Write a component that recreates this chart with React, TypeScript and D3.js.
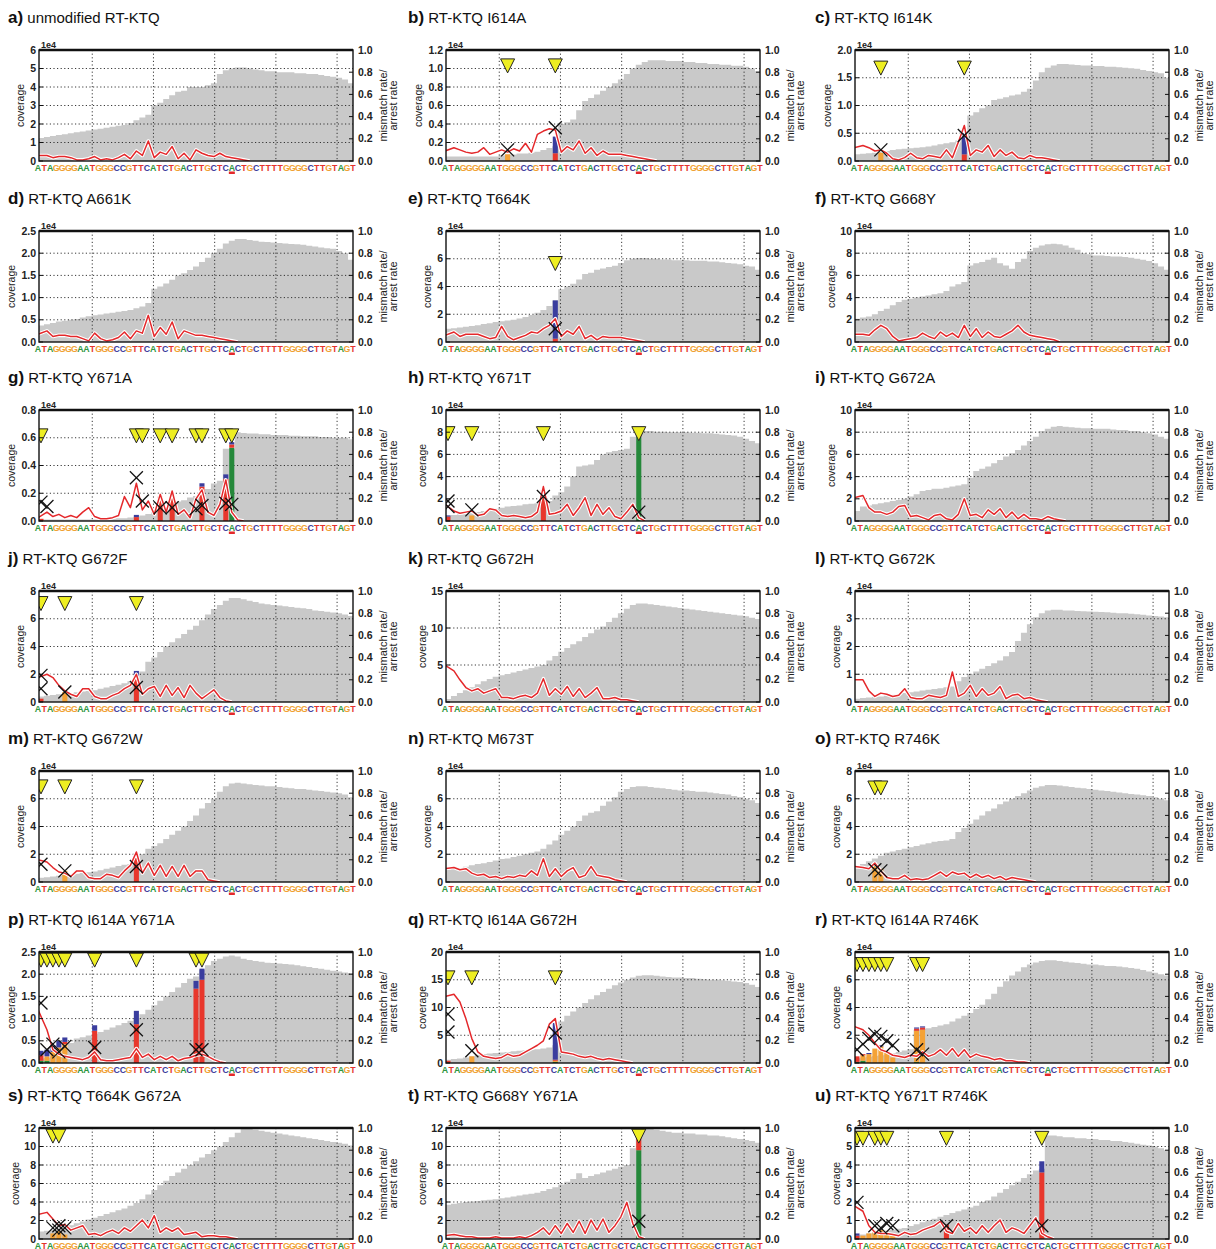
import React from "react";
import * as d3 from "d3";

// template sequence shown under every panel
const SEQ = "ATAGGGGAATGGGCCGTTCATCTGACTTGCTCACTGCTTTTGGGGCTTGTAGT".split("");
const MARKED = 32; // the underlined A

// coverage per position (units of 1e4)
const cov_a = [1.25,1.3,1.35,1.4,1.45,1.5,1.55,1.6,1.65,1.7, 1.75,1.8,1.85,1.9,1.95,2.05,2.2,2.35,2.5,3.0, 3.15,3.35,3.55,3.75,3.8,4.0,4.0,4.0,4.1,4.2, 4.7,4.9,5.0,5.05,5.05,5.0,4.95,4.9,4.85,4.85, 4.8,4.8,4.8,4.75,4.75,4.7,4.7,4.65,4.6,4.55, 4.5,4.4,4.2];
const cov_b = [0.05,0.05,0.05,0.05,0.05,0.05,0.05,0.05,0.05,0.06, 0.07,0.07,0.08,0.08,0.09,0.1,0.12,0.14,0.16,0.4, 0.42,0.45,0.55,0.65,0.68,0.72,0.76,0.8,0.84,0.88, 0.94,1.0,1.04,1.07,1.09,1.09,1.09,1.08,1.08,1.08, 1.07,1.07,1.06,1.06,1.05,1.05,1.04,1.04,1.03,1.03, 1.02,1.0,0.97];
const cov_c = [0.12,0.13,0.14,0.15,0.16,0.18,0.2,0.21,0.22,0.23, 0.24,0.25,0.26,0.28,0.3,0.32,0.34,0.37,0.42,0.82, 0.88,0.95,1.0,1.1,1.12,1.15,1.18,1.2,1.25,1.3, 1.45,1.6,1.68,1.72,1.75,1.75,1.74,1.73,1.72,1.72, 1.71,1.71,1.7,1.7,1.69,1.68,1.67,1.66,1.64,1.62, 1.6,1.58,1.5];
const cov_d = [0.37,0.4,0.43,0.46,0.48,0.5,0.52,0.55,0.58,0.6, 0.62,0.64,0.66,0.68,0.7,0.72,0.76,0.8,0.88,1.2, 1.25,1.32,1.4,1.5,1.55,1.62,1.7,1.8,1.9,2.0, 2.1,2.22,2.28,2.32,2.32,2.3,2.28,2.26,2.25,2.24, 2.23,2.22,2.21,2.2,2.19,2.17,2.15,2.13,2.11,2.1, 2.05,2.0,1.85];
const cov_e = [0.95,1.0,1.05,1.1,1.15,1.2,1.3,1.35,1.45,1.5, 1.55,1.6,1.7,1.8,1.95,2.1,2.3,2.6,3.0,3.8, 4.0,4.2,4.5,4.9,5.0,5.2,5.3,5.4,5.5,5.7, 5.9,6.0,6.05,6.05,6.0,6.0,5.95,5.95,5.9,5.9, 5.9,5.85,5.85,5.85,5.8,5.8,5.75,5.7,5.65,5.6, 5.5,5.45,5.2];
const cov_f = [2.1,2.2,2.3,2.5,2.8,3.0,3.3,3.6,3.8,3.9, 4.0,4.1,4.2,4.3,4.4,4.6,5.0,5.2,5.4,6.9, 7.1,7.2,7.4,7.6,7.1,6.9,6.6,7.2,7.5,8.2, 8.5,8.7,8.8,8.85,8.8,8.7,8.5,8.3,8.0,7.9, 7.8,7.8,7.75,7.7,7.7,7.65,7.6,7.5,7.4,7.3, 7.1,6.8,6.5];
const cov_g = [0.01,0.01,0.01,0.01,0.01,0.01,0.01,0.01,0.01,0.01, 0.01,0.01,0.015,0.02,0.02,0.025,0.03,0.04,0.05,0.07, 0.09,0.1,0.12,0.14,0.15,0.17,0.18,0.2,0.23,0.27, 0.29,0.52,0.52,0.64,0.635,0.63,0.63,0.625,0.625,0.62, 0.62,0.62,0.615,0.615,0.61,0.61,0.61,0.605,0.605,0.6, 0.6,0.6,0.59];
const cov_h = [0.5,0.55,0.6,0.65,0.7,0.8,0.9,1.0,1.1,1.2, 1.3,1.35,1.4,1.5,1.55,1.6,1.7,1.8,2.3,2.6, 3.1,4.0,4.9,5.0,5.1,5.5,6.0,6.2,6.3,6.4, 6.5,7.6,7.8,8.1,8.1,8.05,8.05,8.0,8.0,8.0, 8.0,7.95,7.95,7.9,7.9,7.85,7.8,7.75,7.7,7.6, 7.4,7.2,7.0];
const cov_i = [0.9,1.3,1.4,1.5,1.6,1.7,1.8,1.9,2.0,2.2, 2.4,2.7,2.8,2.9,2.9,3.0,3.1,3.2,3.3,3.9, 4.5,4.7,4.9,5.2,5.5,5.8,6.1,6.4,6.8,7.2, 7.6,8.1,8.3,8.5,8.55,8.5,8.45,8.4,8.35,8.35, 8.3,8.3,8.3,8.25,8.2,8.2,8.1,8.1,8.0,7.9, 7.8,7.6,7.4];
const cov_j = [0.4,0.45,0.5,0.55,0.6,0.65,0.7,0.75,0.8,0.85, 0.95,1.05,1.15,1.25,1.35,1.5,1.7,2.2,2.9,3.2, 3.6,4.0,4.3,4.6,4.9,5.2,5.5,5.9,6.3,6.7, 7.0,7.3,7.5,7.5,7.4,7.3,7.2,7.1,7.05,7.0, 6.95,6.9,6.85,6.8,6.75,6.7,6.6,6.55,6.5,6.45, 6.4,6.3,6.2];
const cov_k = [0.4,0.8,1.2,1.6,2.0,2.4,2.8,3.1,3.4,3.6, 3.8,4.0,4.2,4.4,4.6,4.8,5.0,5.6,6.2,6.8, 7.3,7.8,8.2,8.8,9.3,9.8,10.2,10.8,11.4,12.0, 12.6,13.1,13.3,13.3,13.2,13.1,13.0,12.9,12.8,12.7, 12.6,12.5,12.4,12.3,12.2,12.1,12.0,11.9,11.8,11.7, 11.6,11.4,11.2];
const cov_l = [0.12,0.14,0.16,0.18,0.2,0.23,0.26,0.29,0.32,0.35, 0.38,0.41,0.44,0.47,0.5,0.53,0.56,0.75,0.9,1.0, 1.1,1.2,1.3,1.4,1.5,1.65,1.8,2.2,2.5,2.8, 3.05,3.2,3.3,3.32,3.32,3.3,3.3,3.28,3.27,3.26, 3.25,3.24,3.23,3.22,3.2,3.2,3.18,3.16,3.14,3.12, 3.1,3.08,3.05];
const cov_m = [0.3,0.35,0.4,0.45,0.5,0.55,0.6,0.65,0.7,0.75, 0.85,0.95,1.05,1.15,1.25,1.3,1.4,2.0,2.4,2.6, 2.8,3.1,3.4,3.7,4.0,4.4,4.8,5.3,5.7,6.0, 6.5,6.9,7.1,7.15,7.1,7.05,7.0,6.95,6.9,6.9, 6.85,6.8,6.75,6.7,6.7,6.65,6.6,6.55,6.5,6.45, 6.4,6.3,6.1];
const cov_n = [0.9,0.95,1.0,1.1,1.2,1.3,1.35,1.45,1.55,1.65, 1.7,1.8,1.9,2.0,2.1,2.2,2.4,2.7,3.0,3.4, 3.7,4.0,4.4,4.8,5.0,5.1,5.5,5.8,6.1,6.5, 6.7,6.85,6.9,6.9,6.85,6.8,6.75,6.7,6.65,6.6, 6.6,6.55,6.5,6.5,6.45,6.4,6.35,6.3,6.2,6.1, 6.0,5.9,5.7];
const cov_o = [1.1,1.3,1.5,1.7,1.9,2.1,2.2,2.3,2.4,2.5, 2.6,2.7,2.8,2.9,2.95,3.0,3.1,3.6,3.9,4.2, 4.5,4.8,5.1,5.3,5.6,5.8,6.0,6.2,6.4,6.6, 6.8,6.9,7.0,7.0,6.95,6.9,6.85,6.8,6.75,6.7, 6.65,6.6,6.55,6.5,6.45,6.4,6.35,6.3,6.25,6.2, 6.1,6.0,5.9];
const cov_p = [0.1,0.12,0.15,0.2,0.3,0.45,0.55,0.58,0.62,0.66, 0.7,0.75,0.8,0.85,0.9,0.95,1.0,1.1,1.2,1.3, 1.4,1.5,1.6,1.7,1.8,1.9,1.95,2.1,2.2,2.3, 2.35,2.4,2.42,2.4,2.35,2.32,2.3,2.28,2.26,2.25, 2.24,2.23,2.22,2.2,2.18,2.16,2.14,2.12,2.1,2.08, 2.06,2.04,2.02];
const cov_q = [0.6,0.7,0.8,1.0,1.2,1.5,1.6,1.7,1.8,1.9, 2.0,2.1,2.2,2.3,2.4,2.5,2.6,2.8,3.2,7.5, 8.5,9.3,10.0,10.8,11.5,12.2,12.8,13.4,14.0,14.5, 15.0,15.4,15.7,15.8,15.8,15.7,15.6,15.5,15.4,15.4, 15.3,15.3,15.2,15.1,15.0,15.0,14.9,14.8,14.7,14.6, 14.4,14.1,13.7];
const cov_r = [0.35,0.4,0.45,0.5,0.55,0.6,0.7,0.8,0.9,1.0, 2.4,2.45,2.5,2.6,2.7,2.8,3.0,3.2,3.4,3.6, 3.9,4.2,4.6,5.0,5.5,5.9,6.3,6.6,6.9,7.1, 7.25,7.35,7.4,7.4,7.35,7.3,7.25,7.2,7.15,7.1, 7.1,7.05,7.0,7.0,6.95,6.9,6.85,6.8,6.7,6.6, 6.5,6.4,6.3];
const cov_s = [0.8,0.9,1.0,1.1,1.3,1.5,1.7,1.9,2.1,2.3, 2.5,2.7,2.9,3.1,3.3,3.6,3.9,4.3,4.8,5.3, 5.8,6.3,6.8,7.2,7.6,8.0,8.4,8.8,9.2,9.6, 10.0,10.5,11.0,11.5,11.9,11.9,11.8,11.7,11.6,11.5, 11.4,11.3,11.2,11.1,11.0,10.9,10.8,10.7,10.6,10.5, 10.4,10.3,10.1];
const cov_t = [3.7,3.8,3.9,4.0,4.05,4.1,4.2,4.25,4.3,4.4, 4.5,4.6,4.7,4.8,4.9,5.0,5.2,5.4,5.6,5.9, 6.2,6.5,7.1,6.6,6.8,7.0,7.2,7.4,7.6,7.8, 8.0,9.8,11.9,12.0,11.9,11.8,11.7,11.6,11.5,11.5, 11.4,11.4,11.3,11.3,11.2,11.2,11.1,11.0,10.9,10.8, 10.7,10.6,10.4];
const cov_u = [0.2,0.25,0.3,0.35,0.4,0.45,0.5,0.55,0.6,0.7, 0.8,0.9,1.0,1.1,1.2,1.3,1.4,1.5,1.6,1.7, 1.8,2.0,2.1,2.3,2.5,2.7,2.9,3.1,3.3,3.5, 3.7,3.8,5.6,5.6,5.55,5.5,5.5,5.45,5.45,5.4, 5.4,5.35,5.35,5.3,5.3,5.25,5.2,5.15,5.1,5.05, 5.0,4.9,4.8];

// mismatch rate line per position (right axis)
const mis_a = [0.05,0.05,0.03,0.04,0.04,0.03,0.01,0.01,0.02,0.04, 0.01,0.02,0.01,0.03,0.06,0.02,0.09,0.05,0.18,0.03, 0.08,0.06,0.13,0.02,0.07,0.01,0.1,0.07,0.05,0.04, 0.07,0.04,0.03,0.02,0.01,0];
const mis_b = [0.09,0.12,0.1,0.08,0.07,0.08,0.12,0.06,0.08,0.1, 0.08,0.11,0.09,0.16,0.08,0.24,0.27,0.29,0.28,0.08, 0.13,0.1,0.18,0.07,0.12,0.05,0.09,0.06,0.06,0.06, 0.05,0.04,0.03,0.02,0.01,0];
const mis_c = [0.12,0.14,0.12,0.09,0.1,0.07,0.02,0.01,0.03,0.07, 0.03,0.02,0.05,0.04,0.03,0.1,0.03,0.17,0.32,0.05, 0.1,0.08,0.14,0.04,0.1,0.05,0.08,0.03,0.02,0.05, 0.03,0.03,0.02,0.01,0];
const mis_d = [0.07,0.1,0.05,0.06,0.06,0.05,0.05,0.03,0.01,0.08, 0.03,0.01,0.02,0.04,0.09,0.03,0.1,0.08,0.24,0.05, 0.13,0.07,0.18,0.03,0.1,0.08,0.06,0.06,0.05,0.04, 0.03,0.02,0.01,0];
const mis_e = [0.06,0.09,0.05,0.07,0.07,0.07,0.05,0.03,0.04,0.14, 0.05,0.02,0.04,0.06,0.09,0.08,0.12,0.15,0.21,0.05, 0.1,0.07,0.14,0.03,0.06,0.02,0.05,0.04,0.04,0.04, 0.03,0.02,0.01,0];
const mis_f = [0.07,0.07,0.06,0.11,0.15,0.12,0.05,0.01,0.02,0.03, 0.04,0.08,0.05,0.03,0.09,0.05,0.08,0.04,0.15,0.05, 0.12,0.04,0.09,0.05,0.04,0.07,0.1,0.15,0.09,0.06, 0.05,0.04,0.03,0.02,0];
const mis_g = [0.03,0.08,0.04,0.06,0.03,0.05,0.03,0.08,0.12,0.04, 0.02,0.02,0.03,0.05,0.22,0.12,0.34,0.1,0.18,0.06, 0.24,0.08,0.27,0.06,0.1,0.03,0.2,0.28,0.08,0.05, 0.15,0.37,0.08,0.01,0];
const mis_h = [0.15,0.09,0.07,0.08,0.09,0.05,0.06,0.11,0.1,0.05, 0.04,0.05,0.04,0.03,0.04,0.08,0.31,0.06,0.07,0.09, 0.15,0.05,0.12,0.21,0.05,0.15,0.06,0.12,0.04,0.02, 0.08,0.15,0.03,0];
const mis_i = [0.21,0.23,0.12,0.08,0.08,0.06,0.08,0.13,0.14,0.04, 0.05,0.03,0.01,0.05,0.06,0.02,0.01,0.06,0.2,0.05, 0.06,0.03,0.1,0.06,0.11,0.03,0.08,0.02,0.06,0.02, 0.02,0.01,0.04,0.02,0.01,0];
const mis_j = [0.22,0.25,0.22,0.15,0.1,0.07,0.05,0.12,0.12,0.05, 0.03,0.03,0.06,0.08,0.12,0.15,0.25,0.07,0.12,0.14, 0.05,0.15,0.06,0.13,0.04,0.15,0.08,0.03,0.07,0.11, 0.04,0.01,0];
const mis_k = [0.33,0.28,0.2,0.13,0.1,0.12,0.08,0.1,0.12,0.04, 0.04,0.03,0.05,0.06,0.04,0.08,0.21,0.06,0.12,0.07, 0.14,0.05,0.12,0.04,0.08,0.13,0.03,0.03,0.04,0.02, 0.02,0.01,0];
const mis_l = [0.2,0.2,0.1,0.05,0.08,0.07,0.05,0.06,0.12,0.04, 0.03,0.03,0.06,0.05,0.04,0.06,0.27,0.05,0.08,0.15, 0.05,0.12,0.06,0.08,0.14,0.03,0.06,0.07,0.03,0.04, 0.02,0.01,0];
const mis_m = [0.2,0.18,0.13,0.09,0.08,0.05,0.1,0.1,0.04,0.03, 0.03,0.07,0.06,0.04,0.1,0.15,0.27,0.08,0.17,0.06, 0.15,0.05,0.14,0.05,0.15,0.05,0.1,0.1,0.02,0.01, 0];
const mis_n = [0.12,0.13,0.11,0.12,0.08,0.06,0.07,0.04,0.05,0.03, 0.05,0.04,0.06,0.05,0.1,0.06,0.21,0.05,0.12,0.05, 0.1,0.13,0.04,0.06,0.14,0.06,0.05,0.04,0.02,0.01, 0];
const mis_o = [0.14,0.13,0.12,0.17,0.1,0.04,0.03,0.03,0.06,0.02, 0.03,0.02,0.03,0.06,0.09,0.05,0.09,0.07,0.08,0.04, 0.07,0.04,0.06,0.03,0.05,0.02,0.04,0.03,0.02,0.01, 0];
const mis_p = [0.48,0.3,0.12,0.08,0.06,0.05,0.04,0.03,0.05,0.1, 0.03,0.02,0.02,0.03,0.04,0.05,0.13,0.05,0.08,0.03, 0.06,0.03,0.06,0.02,0.04,0.05,0.07,0.08,0.06,0.03, 0.01,0];
const mis_q = [0.6,0.62,0.55,0.4,0.22,0.1,0.06,0.05,0.04,0.05, 0.08,0.06,0.07,0.1,0.13,0.16,0.2,0.35,0.4,0.1, 0.09,0.08,0.06,0.05,0.06,0.04,0.03,0.04,0.03,0.02, 0.01,0];
const mis_r = [0.33,0.3,0.25,0.18,0.12,0.1,0.07,0.06,0.05,0.07, 0.06,0.1,0.06,0.08,0.12,0.07,0.13,0.06,0.12,0.05, 0.08,0.06,0.05,0.03,0.04,0.02,0.02,0.01,0.01,0];
const mis_s = [0.22,0.24,0.18,0.12,0.13,0.08,0.1,0.12,0.04,0.05, 0.03,0.06,0.08,0.05,0.1,0.07,0.12,0.17,0.1,0.21, 0.06,0.1,0.07,0.1,0.04,0.05,0.06,0.02,0.03,0.03, 0.02,0.02,0.01,0];
const mis_t = [0.03,0.04,0.03,0.02,0.02,0.01,0.01,0.01,0.02,0.01, 0.01,0.01,0.02,0.01,0.03,0.06,0.1,0.04,0.12,0.05, 0.14,0.06,0.16,0.05,0.17,0.08,0.18,0.06,0.12,0.2, 0.33,0.14,0.02,0];
const mis_u = [0.3,0.25,0.12,0.06,0.05,0.05,0.04,0.03,0.06,0.04, 0.05,0.08,0.1,0.12,0.16,0.07,0.05,0.14,0.07,0.1, 0.05,0.12,0.06,0.12,0.17,0.06,0.1,0.08,0.05,0.12, 0.19,0.05,0.02,0];

// stacked mismatch bars: [position, base, rate]
const bars_b = [[10,"G",0.06],[18,"T",0.07],[18,"C",0.15]];
const bars_c = [[4,"G",0.075],[18,"T",0.06],[18,"C",0.22]];
const bars_e = [[18,"T",0.03],[18,"C",0.345]];
const bars_g = [[0,"T",0.02],[16,"T",0.035],[16,"C",0.02],[20,"T",0.22],[22,"T",0.22],[27,"T",0.31],[27,"C",0.03],[31,"T",0.38],[31,"C",0.04],[32,"A",0.66],[32,"T",0.03],[32,"C",0.02]];
const bars_h = [[0,"T",0.04],[0,"C",0.01],[4,"G",0.05],[16,"T",0.28],[32,"A",0.76],[32,"T",0.02]];
const bars_j = [[0,"T",0.03],[4,"G",0.09],[16,"T",0.23],[16,"C",0.05]];
const bars_m = [[4,"G",0.1],[16,"T",0.22]];
const bars_o = [[3,"G",0.17],[4,"G",0.12]];
const bars_p = [[0,"A",0.02],[0,"T",0.05],[0,"C",0.04],[1,"A",0.02],[1,"G",0.04],[1,"C",0.06],[2,"G",0.1],[2,"C",0.06],[3,"G",0.14],[3,"C",0.06],[4,"G",0.17],[4,"T",0.02],[4,"C",0.04],[9,"T",0.29],[9,"C",0.05],[16,"T",0.35],[16,"C",0.12],[26,"T",0.67],[26,"C",0.07],[27,"T",0.75],[27,"C",0.1]];
const bars_q = [[0,"T",0.02],[4,"G",0.06],[18,"A",0.01],[18,"G",0.01],[18,"T",0.01],[18,"C",0.33]];
const bars_r = [[0,"A",0.01],[0,"T",0.05],[1,"A",0.02],[1,"G",0.05],[1,"T",0.01],[2,"G",0.08],[2,"C",0.01],[3,"G",0.13],[4,"G",0.15],[4,"C",0.01],[5,"G",0.11],[6,"G",0.05],[10,"A",0.01],[10,"G",0.28],[10,"T",0.02],[10,"C",0.01],[11,"G",0.3],[11,"T",0.02],[11,"C",0.01]];
const bars_s = [[2,"G",0.05],[3,"G",0.07],[4,"G",0.04]];
const bars_t = [[32,"A",0.8],[32,"T",0.14]];
const bars_u = [[0,"T",0.03],[0,"C",0.02],[1,"G",0.03],[2,"G",0.05],[3,"G",0.07],[4,"G",0.08],[5,"G",0.06],[6,"G",0.04],[15,"T",0.13],[31,"T",0.6],[31,"C",0.1]];

// arrest markers: [position, rate]
const xs_b = [[10,0.1],[18,0.3]];
const xs_c = [[4,0.1],[18,0.23]];
const xs_e = [[18,0.12]];
const xs_g = [[0,0.17],[1,0.13],[16,0.39],[17,0.18],[20,0.12],[22,0.12],[26,0.11],[27,0.14],[31,0.16],[32,0.15]];
const xs_h = [[0,0.18],[0,0.13],[4,0.1],[16,0.22],[32,0.08]];
const xs_j = [[0,0.24],[0,0.12],[4,0.09],[16,0.13]];
const xs_m = [[0,0.16],[4,0.1],[16,0.14]];
const xs_o = [[3,0.11],[4,0.1]];
const xs_p = [[0,0.54],[1,0.12],[2,0.17],[3,0.1],[4,0.15],[9,0.14],[16,0.3],[26,0.12],[27,0.12]];
const xs_q = [[0,0.44],[0,0.28],[4,0.11],[18,0.27]];
const xs_r = [[0,0.12],[1,0.17],[2,0.22],[3,0.26],[4,0.24],[5,0.2],[6,0.16],[10,0.12],[11,0.08]];
const xs_s = [[2,0.1],[3,0.12],[3,0.08],[4,0.1]];
const xs_t = [[32,0.16]];
const xs_u = [[0,0.33],[3,0.12],[4,0.1],[5,0.14],[6,0.12],[15,0.12],[31,0.12]];

// significant sites (yellow triangles)
const tri_b = [10, 18];
const tri_c = [4, 18];
const tri_e = [18];
const tri_g = [0, 16, 17, 20, 22, 26, 27, 31, 32];
const tri_h = [0, 4, 16, 32];
const tri_j = [0, 4, 16];
const tri_m = [0, 4, 16];
const tri_o = [3, 4];
const tri_p = [0, 1, 2, 3, 4, 9, 16, 26, 27];
const tri_q = [0, 4, 18];
const tri_r = [0, 1, 2, 3, 4, 5, 10, 11];
const tri_s = [2, 3];
const tri_t = [32];
const tri_u = [0, 1, 3, 4, 5, 15, 31];

// left-axis tick labels
const ticks_a = [0, 1, 2, 3, 4, 5, 6];
const ticks_b = [0, 0.2, 0.4, 0.6, 0.8, 1.0, 1.2];
const ticks_c = [0, 0.5, 1.0, 1.5, 2.0];
const ticks_d = [0, 0.5, 1.0, 1.5, 2.0, 2.5];
const ticks_8 = [0, 2, 4, 6, 8];
const ticks_10 = [0, 2, 4, 6, 8, 10];
const ticks_g = [0, 0.2, 0.4, 0.6, 0.8];
const ticks_k = [0, 5, 10, 15];
const ticks_l = [0, 1, 2, 3, 4];
const ticks_q = [0, 5, 10, 15, 20];
const ticks_12 = [0, 2, 4, 6, 8, 10, 12];
const ticks_u = [0, 1, 2, 3, 4, 5, 6];
const rightTicks = [0, 0.2, 0.4, 0.6, 0.8, 1.0];
const gridTicks = [10, 20, 30, 40, 50];

const none: any[] = [];
const PANELS = [
  { id: "a", title: "unmodified RT-KTQ", ticks: ticks_a, cov: cov_a, mis: mis_a, bars: none, xs: none, tri: none, triTop: 0 },
  { id: "b", title: "RT-KTQ I614A", ticks: ticks_b, cov: cov_b, mis: mis_b, bars: bars_b, xs: xs_b, tri: tri_b, triTop: 0.92 },
  { id: "c", title: "RT-KTQ I614K", ticks: ticks_c, cov: cov_c, mis: mis_c, bars: bars_c, xs: xs_c, tri: tri_c, triTop: 0.9 },
  { id: "d", title: "RT-KTQ A661K", ticks: ticks_d, cov: cov_d, mis: mis_d, bars: none, xs: none, tri: none, triTop: 0 },
  { id: "e", title: "RT-KTQ T664K", ticks: ticks_8, cov: cov_e, mis: mis_e, bars: bars_e, xs: xs_e, tri: tri_e, triTop: 0.77 },
  { id: "f", title: "RT-KTQ G668Y", ticks: ticks_10, cov: cov_f, mis: mis_f, bars: none, xs: none, tri: none, triTop: 0 },
  { id: "g", title: "RT-KTQ Y671A", ticks: ticks_g, cov: cov_g, mis: mis_g, bars: bars_g, xs: xs_g, tri: tri_g, triTop: 0.83 },
  { id: "h", title: "RT-KTQ Y671T", ticks: ticks_10, cov: cov_h, mis: mis_h, bars: bars_h, xs: xs_h, tri: tri_h, triTop: 0.85 },
  { id: "i", title: "RT-KTQ G672A", ticks: ticks_10, cov: cov_i, mis: mis_i, bars: none, xs: none, tri: none, triTop: 0 },
  { id: "j", title: "RT-KTQ G672F", ticks: ticks_8, cov: cov_j, mis: mis_j, bars: bars_j, xs: xs_j, tri: tri_j, triTop: 0.95 },
  { id: "k", title: "RT-KTQ G672H", ticks: ticks_k, cov: cov_k, mis: mis_k, bars: none, xs: none, tri: none, triTop: 0 },
  { id: "l", title: "RT-KTQ G672K", ticks: ticks_l, cov: cov_l, mis: mis_l, bars: none, xs: none, tri: none, triTop: 0 },
  { id: "m", title: "RT-KTQ G672W", ticks: ticks_8, cov: cov_m, mis: mis_m, bars: bars_m, xs: xs_m, tri: tri_m, triTop: 0.92 },
  { id: "n", title: "RT-KTQ M673T", ticks: ticks_8, cov: cov_n, mis: mis_n, bars: none, xs: none, tri: none, triTop: 0 },
  { id: "o", title: "RT-KTQ R746K", ticks: ticks_8, cov: cov_o, mis: mis_o, bars: bars_o, xs: xs_o, tri: tri_o, triTop: 0.91 },
  { id: "p", title: "RT-KTQ I614A Y671A", ticks: ticks_d, cov: cov_p, mis: mis_p, bars: bars_p, xs: xs_p, tri: tri_p, triTop: 0.99 },
  { id: "q", title: "RT-KTQ I614A G672H", ticks: ticks_q, cov: cov_q, mis: mis_q, bars: bars_q, xs: xs_q, tri: tri_q, triTop: 0.83 },
  { id: "r", title: "RT-KTQ I614A R746K", ticks: ticks_8, cov: cov_r, mis: mis_r, bars: bars_r, xs: xs_r, tri: tri_r, triTop: 0.95 },
  { id: "s", title: "RT-KTQ T664K G672A", ticks: ticks_12, cov: cov_s, mis: mis_s, bars: bars_s, xs: xs_s, tri: tri_s, triTop: 0.99 },
  { id: "t", title: "RT-KTQ G668Y Y671A", ticks: ticks_12, cov: cov_t, mis: mis_t, bars: bars_t, xs: xs_t, tri: tri_t, triTop: 0.99 },
  { id: "u", title: "RT-KTQ Y671T R746K", ticks: ticks_u, cov: cov_u, mis: mis_u, bars: bars_u, xs: xs_u, tri: tri_u, triTop: 0.97 },
];

const BASE_TEXT: Record<string, string> = { A: "#2e9640", C: "#3a3a9c", G: "#f0a032", T: "#e5332d" };
const BAR_FILL: Record<string, string> = { A: "#25883a", C: "#3a3d9e", G: "#f4a236", T: "#e8372c" };

const COLS = [39, 446, 855];
const ROWS = [50, 231, 410, 591, 771, 952, 1128];
const TITLE_X = [8, 408, 815];
const PW = 314;
const PH = 111;
const FONT = "'Liberation Sans', Arial, sans-serif";

function Panel({ p, left, top, titleX }: any) {
  const n = SEQ.length;
  const right = left + PW;
  const bottom = top + PH;
  const x = d3.scaleLinear().domain([0, n]).range([left - 1, right + 1]);
  const sx = d3.scaleLinear().domain([0, n]).range([left - 4, right + 3]);
  const gx = d3.scaleLinear().domain([1.3, 52.6]).range([left, right]);
  const yMax = p.ticks[p.ticks.length - 1];
  const yL = d3.scaleLinear().domain([0, yMax]).range([bottom, top]);
  const yR = d3.scaleLinear().domain([0, 1]).range([bottom, top]);
  const decimals = p.ticks.some((t: number) => !Number.isInteger(t));
  const fmt = decimals ? d3.format(".1f") : d3.format("d");
  const labelChars = d3.max(p.ticks, (t: number) => fmt(t).length) || 1;
  const covX = left - 10 - labelChars * 4.8;

  const area = d3
    .area<number>()
    .x((_, i) => x(i))
    .y0(bottom)
    .y1((d) => yL(d))
    .curve(d3.curveStepAfter);
  const covPath = area([...p.cov, p.cov[p.cov.length - 1]]) || "";

  const line = d3
    .line<[number, number]>()
    .x((d) => x(d[0]))
    .y((d) => yR(d[1]));
  const misPath = line(p.mis.map((v: number, i: number) => [i === 0 ? 0 : i + 0.5, v])) || "";

  // stack the bar segments position by position
  const acc: Record<number, number> = {};
  const segs = p.bars.map(([pos, base, v]: any) => {
    const y0 = acc[pos] || 0;
    acc[pos] = y0 + v;
    return { pos, base, y0, y1: y0 + v };
  });
  const bw = (x(1) - x(0)) * 0.85;
  const clipId = `clip-${p.id}`;

  return (
    <g>
      <text x={titleX} y={top - 27} fontFamily={FONT} fill="#111">
        <tspan fontSize={17} fontWeight="bold">{p.id})</tspan>
        <tspan fontSize={15}> {p.title}</tspan>
      </text>
      <defs>
        <clipPath id={clipId}>
          <rect x={left} y={top} width={PW} height={PH} />
        </clipPath>
      </defs>
      <g clipPath={`url(#${clipId})`}>
        <path d={covPath} fill="#c9c9c9" />
        {gridTicks.map((t) => (
          <line key={"v" + t} x1={gx(t)} x2={gx(t)} y1={top} y2={bottom} stroke="#222" strokeWidth={0.9} strokeDasharray="1.2,2.4" />
        ))}
        {p.ticks.slice(1, -1).map((t: number) => (
          <line key={"h" + t} x1={left} x2={right} y1={yL(t)} y2={yL(t)} stroke="#222" strokeWidth={0.9} strokeDasharray="1.2,2.4" />
        ))}
        {segs.map((s: any, i: number) => (
          <rect key={"b" + i} x={x(s.pos + 0.5) - bw / 2} width={bw} y={yR(s.y1)} height={yR(s.y0) - yR(s.y1)} fill={BAR_FILL[s.base]} />
        ))}
        <path d={misPath} fill="none" stroke="#fff" strokeWidth={3.6} strokeLinejoin="round" />
        <path d={misPath} fill="none" stroke="#e4282b" strokeWidth={1.5} strokeLinejoin="round" />
        {p.xs.map(([pos, v]: any, i: number) => {
          const cx = x(pos + 0.5);
          const cy = yR(v);
          const r = 6.5;
          return (
            <g key={"x" + i} stroke="#111" strokeWidth={1.3}>
              <line x1={cx - r} y1={cy - r} x2={cx + r} y2={cy + r} />
              <line x1={cx - r} y1={cy + r} x2={cx + r} y2={cy - r} />
            </g>
          );
        })}
        {p.tri.map((pos: number, i: number) => {
          const cx = x(pos + 0.5);
          const ty = yR(p.triTop);
          return (
            <path key={"t" + i} d={`M${cx - 7},${ty}L${cx + 7},${ty}L${cx},${ty + 14}Z`} fill="#eeee22" stroke="#222" strokeWidth={1} />
          );
        })}
      </g>
      {/* frame */}
      <rect x={left} y={top} width={PW} height={PH} fill="none" stroke="#111" strokeWidth={1.4} />
      <line x1={left} x2={right} y1={top} y2={top} stroke="#111" strokeWidth={2.6} />
      {/* left axis */}
      {p.ticks.map((t: number) => (
        <g key={"lt" + t}>
          <line x1={left} x2={left + 4} y1={yL(t)} y2={yL(t)} stroke="#111" strokeWidth={1} />
          <text x={left - 3} y={yL(t)} dy="0.35em" textAnchor="end" fontFamily={FONT} fontSize={10.5} fontWeight="bold" fill="#222">
            {fmt(t)}
          </text>
        </g>
      ))}
      <text x={left + 2} y={top - 2.5} fontFamily={FONT} fontSize={9} fontWeight="bold" fill="#222">1e4</text>
      <text transform={`translate(${covX},${top + PH / 2}) rotate(-90)`} textAnchor="middle" fontFamily={FONT} fontSize={10.5} fill="#222">
        coverage
      </text>
      {/* right axis */}
      {rightTicks.map((t) => (
        <g key={"rt" + t}>
          <line x1={right - 4} x2={right} y1={yR(t)} y2={yR(t)} stroke="#111" strokeWidth={1} />
          <text x={right + 5} y={yR(t)} dy="0.35em" fontFamily={FONT} fontSize={10.5} fontWeight="bold" fill="#222">
            {d3.format(".1f")(t)}
          </text>
        </g>
      ))}
      <text transform={`translate(${right + 34},${top + PH / 2}) rotate(-90)`} textAnchor="middle" fontFamily={FONT} fontSize={11} fill="#222">
        mismatch rate/
      </text>
      <text transform={`translate(${right + 44},${top + PH / 2}) rotate(-90)`} textAnchor="middle" fontFamily={FONT} fontSize={11} fill="#222">
        arrest rate
      </text>
      {/* sequence */}
      {SEQ.map((b, i) => (
        <text key={"s" + i} x={sx(i + 0.5)} y={bottom + 10} textAnchor="middle" fontFamily={FONT} fontSize={8.8} fontWeight="bold" fill={BASE_TEXT[b]}>
          {b}
        </text>
      ))}
      <rect x={sx(MARKED + 0.5) - 3} y={bottom + 10.5} width={6} height={2.5} fill="#e4282b" />
    </g>
  );
}

export default function App() {
  return (
    <svg
      width={1216}
      height={1249}
      style={{ position: "absolute", left: 0, top: 0, background: "#fff" }}
    >
      <rect width={1216} height={1249} fill="#fff" />
      {PANELS.map((p, k) => (
        <Panel key={p.id} p={p} left={COLS[k % 3]} top={ROWS[Math.floor(k / 3)]} titleX={TITLE_X[k % 3]} />
      ))}
    </svg>
  );
}
